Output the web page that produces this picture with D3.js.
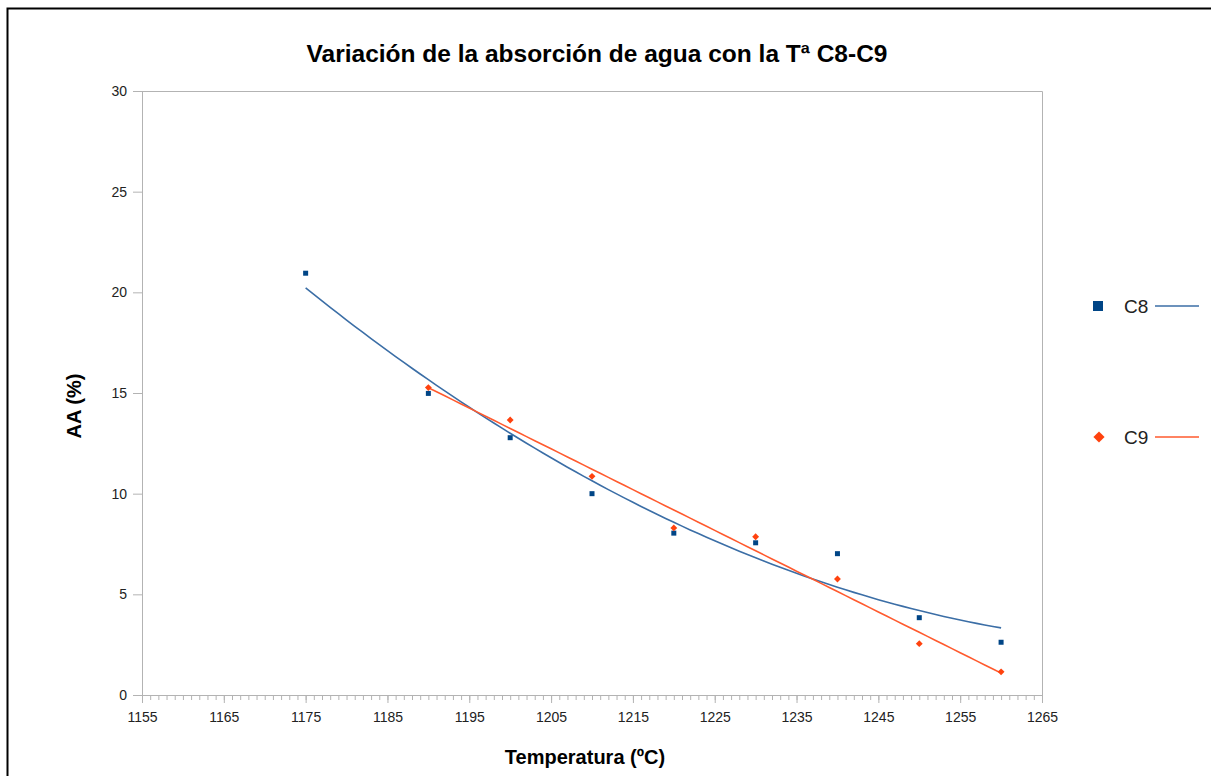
<!DOCTYPE html>
<html>
<head>
<meta charset="utf-8">
<script src="https://cdn.jsdelivr.net/npm/d3@7"></script>
<style>
  body { margin: 0; background: #fff; }
  svg { display: block; font-family: "Liberation Sans", Arial, sans-serif; }
</style>
</head>
<body>
<svg width="1211" height="776"></svg>
<script>
// data
const tempC8 = [1175, 1190, 1200, 1210, 1220, 1230, 1240, 1250, 1260];
const aaC8   = [20.95, 14.98, 12.78, 10.0, 8.04, 7.56, 7.02, 3.84, 2.62];
const tempC9 = [1190, 1200, 1210, 1220, 1230, 1240, 1250, 1260];
const aaC9   = [15.27, 13.66, 10.86, 8.3, 7.86, 5.76, 2.55, 1.15];
const xTicks = [1155, 1165, 1175, 1185, 1195, 1205, 1215, 1225, 1235, 1245, 1255, 1265];
const yTicks = [0, 5, 10, 15, 20, 25, 30];
const seriesNames = ["C8", "C9"];

const margin = {top: 91, left: 142};
const plotW = 900, plotH = 604;
const gray = "#b3b3b3";
const blue = "#004586", orange = "#ff420e";
const blueLine = "#3b6ea6", orangeLine = "#ff5a2e";

const svg = d3.select("svg");

// outer frame
svg.append("rect")
  .attr("x", 7.5).attr("y", 8.5)
  .attr("width", 1220).attr("height", 790)
  .attr("fill", "none").attr("stroke", "#000").attr("stroke-width", 2);

svg.append("text")
  .attr("x", 597).attr("y", 62)
  .attr("text-anchor", "middle")
  .attr("font-size", "24.5px").attr("font-weight", "bold")
  .text("Variación de la absorción de agua con la Tª C8-C9");

const g = svg.append("g").attr("transform", `translate(${margin.left},${margin.top})`);

const x = d3.scaleLinear().domain([1155, 1265]).range([0, plotW]);
const y = d3.scaleLinear().domain([0, 30]).range([plotH, 0]);

// plot frame (top + right)
g.append("path")
  .attr("d", `M0,0.5H${plotW + 0.5}V${plotH}`)
  .attr("fill", "none").attr("stroke", gray);

// minor x ticks every 1 unit
g.append("g")
  .attr("transform", `translate(0,${plotH})`)
  .call(d3.axisBottom(x).tickValues(d3.range(1155, 1266, 1)).tickSize(5).tickFormat(""))
  .call(a => a.select(".domain").remove())
  .selectAll("line").attr("stroke", gray);

const xAxis = g.append("g")
  .attr("transform", `translate(0,${plotH})`)
  .call(d3.axisBottom(x).tickValues(xTicks).tickSize(8).tickSizeOuter(0).tickPadding(9).tickFormat(d3.format("d")));
xAxis.select(".domain").attr("stroke", gray);
xAxis.selectAll("line").attr("stroke", gray);
xAxis.selectAll("text").attr("font-size", "14px").attr("fill", "#222").attr("font-family", "Liberation Sans, Arial, sans-serif");

const yAxis = g.append("g")
  .call(d3.axisLeft(y).tickValues(yTicks).tickSize(9).tickSizeOuter(0).tickPadding(6));
yAxis.select(".domain").attr("stroke", gray);
yAxis.selectAll("line").attr("stroke", gray);
yAxis.selectAll("text").attr("font-size", "14px").attr("fill", "#222").attr("font-family", "Liberation Sans, Arial, sans-serif");

svg.append("text")
  .attr("x", 585).attr("y", 764)
  .attr("text-anchor", "middle")
  .attr("font-size", "20px").attr("font-weight", "bold")
  .text("Temperatura (ºC)");

svg.append("text")
  .attr("transform", "translate(81,406) rotate(-90)")
  .attr("text-anchor", "middle")
  .attr("font-size", "20px").attr("font-weight", "bold")
  .text("AA (%)");

// least-squares polynomial trend lines, as the spreadsheet draws them
function polyFit(xs, ys, deg) {
  const x0 = d3.mean(xs);
  const n = deg + 1;
  const A = Array.from({length: n}, () => new Array(n + 1).fill(0));
  xs.forEach((xv, k) => {
    const t = xv - x0;
    for (let i = 0; i < n; i++) {
      for (let j = 0; j < n; j++) A[i][j] += Math.pow(t, i + j);
      A[i][n] += ys[k] * Math.pow(t, i);
    }
  });
  for (let i = 0; i < n; i++) {
    for (let r = i + 1; r < n; r++) {
      const f = A[r][i] / A[i][i];
      for (let c = i; c <= n; c++) A[r][c] -= f * A[i][c];
    }
  }
  const coef = new Array(n).fill(0);
  for (let i = n - 1; i >= 0; i--) {
    let s = A[i][n];
    for (let j = i + 1; j < n; j++) s -= A[i][j] * coef[j];
    coef[i] = s / A[i][i];
  }
  return xv => coef.reduce((s, c, i) => s + c * Math.pow(xv - x0, i), 0);
}

const line = d3.line().x(d => x(d[0])).y(d => y(d[1]));

function trend(xs, ys, deg, color) {
  const f = polyFit(xs, ys, deg);
  const pts = d3.range(xs[0], xs[xs.length - 1] + 0.01, 1).map(t => [t, f(t)]);
  g.append("path").datum(pts)
    .attr("d", line)
    .attr("fill", "none").attr("stroke", color).attr("stroke-width", 1.6);
}

trend(tempC8, aaC8, 2, blueLine);
trend(tempC9, aaC9, 1, orangeLine);

g.selectAll(".c8").data(tempC8).enter().append("rect")
  .attr("class", "c8")
  .attr("x", (d) => x(d) - 2.5)
  .attr("y", (d, i) => y(aaC8[i]) - 2.5)
  .attr("width", 5).attr("height", 5)
  .attr("fill", blue);

const diamond = d3.symbol().type(d3.symbolDiamond2).size(30);
g.selectAll(".c9").data(tempC9).enter().append("path")
  .attr("class", "c9")
  .attr("d", diamond)
  .attr("transform", (d, i) => `translate(${x(d)},${y(aaC9[i])})`)
  .attr("fill", orange);

// legend
const legend = svg.append("g");
const legY = [306, 437];
legend.append("rect").attr("x", 1093).attr("y", 301).attr("width", 10).attr("height", 10).attr("fill", blue);
legend.append("path").attr("d", d3.symbol().type(d3.symbolDiamond2).size(80))
  .attr("transform", "translate(1099,437)").attr("fill", orange);
seriesNames.forEach((name, i) => {
  legend.append("text")
    .attr("x", 1124).attr("y", legY[i] + 7)
    .attr("font-size", "19px").attr("fill", "#222")
    .text(name);
  legend.append("line")
    .attr("x1", 1155).attr("x2", 1199)
    .attr("y1", legY[i]).attr("y2", legY[i])
    .attr("stroke", i === 0 ? blueLine : orangeLine).attr("stroke-width", 1.4);
});
</script>
</body>
</html>
